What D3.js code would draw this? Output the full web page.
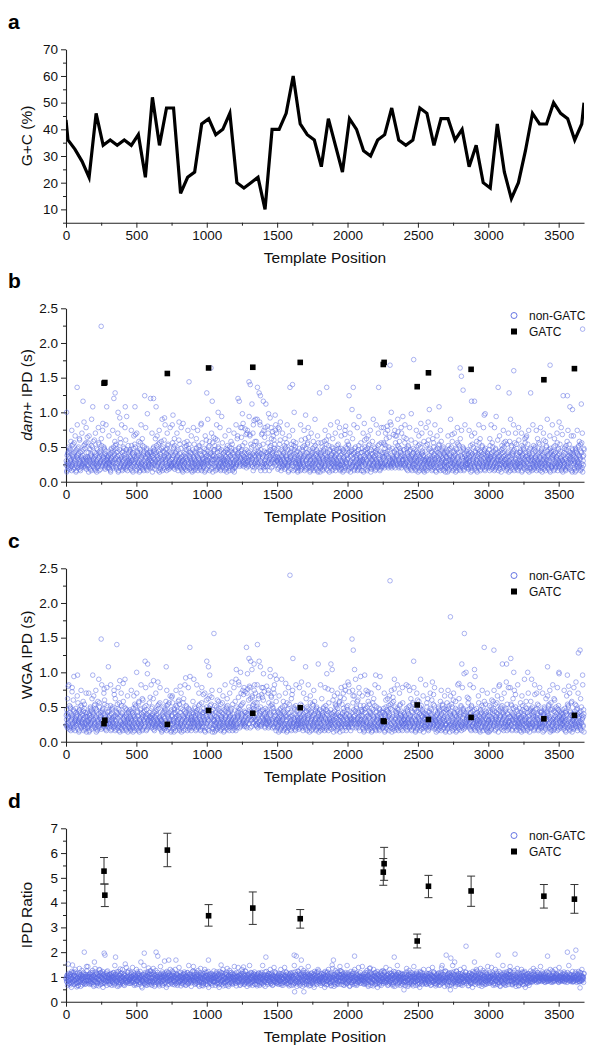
<!DOCTYPE html>
<html><head><meta charset="utf-8">
<script src="https://cdn.jsdelivr.net/npm/d3@7"></script>
<style>
body{margin:0;background:#fff}
svg{display:block}
text{font-family:"Liberation Sans",Arial,Helvetica,sans-serif}
</style>
</head><body>
<svg id="chart" width="592" height="1050"></svg>
<script>
// ---------------- DATA ----------------
// Panel a: G+C content along the template
const gcPos = [0,14,64,114,164,214,264,314,364,414,464,514,564,614,664,714,764,814,864,914,964,1014,1064,1114,1164,1214,1264,1314,1364,1414,1464,1514,1564,1614,1664,1714,1764,1814,1864,1914,1964,2014,2064,2114,2164,2214,2264,2314,2364,2414,2464,2514,2564,2614,2664,2714,2764,2814,2864,2914,2964,3014,3064,3114,3164,3214,3264,3314,3364,3414,3464,3514,3564,3614,3664,3680];
const gcVal = [43.5,36,32.5,28,22,46,34,36,34,36,34,38,22,52,34,48,48,16,22,24,42,44,38,40,46,20,18,20,22,10,40,40,46,60,42,38,36,26,44,34,24,44,40,32,30,36,38,48,36,34,36,48,46,34,44,44,36,40,26,34,20,18,42,24,14,20,32,46,42,42,50,46,44,36,42,50];

// GATC sites
const gatcPos   = [270,276,720,1013,1327,1664,2254,2260,2495,2575,2878,3395,3612];
const gatcDam   = [1.42,1.43,1.56,1.64,1.65,1.72,1.69,1.72,1.37,1.57,1.62,1.47,1.63];
const gatcWga   = [0.26,0.31,0.25,0.45,0.41,0.49,0.30,0.29,0.53,0.32,0.35,0.33,0.38];
const gatcRatio = [5.27,4.30,6.12,3.47,3.78,3.35,5.23,5.57,2.45,4.66,4.47,4.26,4.14];
const gatcRatioLo = [4.75,3.84,5.45,3.05,3.12,2.97,4.70,4.90,2.17,4.20,3.85,3.78,3.57];
const gatcRatioHi = [5.82,4.75,6.80,3.92,4.43,3.72,5.78,6.23,2.73,5.10,5.07,4.73,4.73];

// Axis ticks
const xMajorTicks = [0,500,1000,1500,2000,2500,3000,3500];
const xMinorTicks = [250,750,1250,1750,2250,2750,3250];
const gcTicks = [10,20,30,40,50,60,70];
const gcMinor = [5,15,25,35,45,55,65];
const ipdTicks = [0,0.5,1.0,1.5,2.0,2.5];
const ipdMinor = [0.25,0.75,1.25,1.75,2.25];
const ratioTicks = [0,1,2,3,4,5,6,7];
const ratioMinor = [0.5,1.5,2.5,3.5,4.5,5.5,6.5];

// non-GATC values: one character per template position, chunks of 150 bases.
// Set A: bases 1,4,7,...  character k stands for k*0.04
// Set B: bases 2,5,8,...  character k stands for k*0.04 + 0.02
const LEVELS = "0123456789ABCDEFGHIJKLMNOPQRSTUVWXYZabcdefghijklmnopqrstuvwxyz";
const damA = [
"6P47A59B6C7584D69A7E58B649YC5A68F74956B8T6D7C59E86",
"G9E685C7A4D96R785F94A6C7586E49B7AuD86L97C5A6B8R957",
"9576A48C6B795UA8WD75C9BP487N5E69847B5C6ARF59746D8B",
"79B56D4A8C679RH8496B7A5C64E8975D6A4BV6957C4A9768B5",
"UA6957CUB86A7RD9684B7E5A96C847B5FN978A4C5D69B75A86",
"68EO5C7D6A8B65947F86A5C7946L85E7A96D4857CaB95A7486",
"75948B6A5C79468D5A7BL4E6857C6A49FW87B69D4A7f58TE9G",
"B8D64795F8P6C5B74896E5A7846B9C57D68A4597B6C84A6759",
"5B8679AUC7T968BGA6DL798EJ6H5A7B69a8HZ976S8A4DM5B97",
"68AY7B9WD5V4AH796T5BG48S69AKE7B48N9D57AI8BFC7O96A8",
"97C5AJ8F74956B8A6D7C59E866847AY9B6C7Z84DP9A7E58B64",
"57C6A49F587B69D4AOC586E9G75948B6A5C79468D5A7B94E68",
"W7A5E69847B5C6A8FY9746D8B9576A48C6B7954A86D75C9B64",
"6C5A7B6948H5K76C8A4DV5B975BQ67YA4C75968B4A6D5798E4",
"6C847BLF6978A4C5D69B75A868A6957C4B86A75DY684B7E5A9",
"68E95C7D6AKB659G7g86P5C79H6B85E7A96DI857C6B95A7886",
"G9E685C7A4D96B785F94A6Ci586E49B7A5D86497L5A6B84957",
"B8D64795F8Q6C5B74896E5A7846B9C57DR8A4597B6C84A6759",
"79B56D4A8C6795H8496B7A5C64E8975D6f4Bc695XC4A9768B5",
"68A57B96D5T4A8796T5B748C69A5E7B4869D57A6OB4C7596A8",
"7584D69A7E58B6497C5A68FY4956B8A6D7C59E866847A59B6W",
"79468D5A7Be4E6857C6A49F587B69D4A7C586E9G75948B6A5C",
"W954A86D75C9B6487A5E69847B5C6A8F59746D8B9576A4gC6B",
"5968B4A6D5798E46C5A7B6948H5V76C8A4D65V975B8R79A4CQ",
"8A6957C4B86A75D9684BSE5t96C"
];
const damB = [
"7395A6C48B7E5I69D48A7G63B5K89C6F47A58H69B7L5D68J47",
"58A3G7B496M7C5E86A4H9736B5J8D6A47F95I68C7B45K69786",
"9G6473B8A5I7C69E58D4A6H379B5F86K4A7C598J64BN5786A7",
"6B84I75A39G6D7C85H4A96E37B5K68F49A7C56J8B4O7956A87",
"A57H398C6B4F7A5G96D8I3B47E5M6C89A4K7B65H8D9467J5A6",
"5K89C6F47A58H69B7L5D68J477395A6C48B7E5I69D48A7G63B",
"5J8D6A47F95I68C7B45K6978658A3G7B496M7C5E86A4H9736B",
"9B5F86K4A7C598J64BN5786A79G6473B8A5I7C69E58D4A6H37",
"B5K68FG9A7C56J8BJO7956A876B8HI75AN9G6D7C85HKA96EM7",
"E5M6C89ALK7B65H8D9I67J5A6A57HO98C6BJF7A5G96D8IKBH7",
"74J86D5L7B96H85A74F6C98K5B36G7A84D96I5E7B84C6A5937",
"68796K54B7C86I59F74A6D8J5B6379H4A68E5C7M694B7G3A85",
"7395A6C48B7E5I69D48A7G63B5K89C6F47A58H69B7L5D68J47",
"9G6473B8A5I7C69E58D4A6H379B5F86K4A7C598J64BN5786A7",
"A57H398C6B4F7A5G96D8I3B47E5M6C89A4K7B65H8D9467J5A6",
"5J8D6AH7F95I68C7BL5K6978658AIG7BG96M7C5E86AJH97N6B",
"B5K68F49A7C56J8B4O7956A876B84I75A39G6D7C85H4A96E37",
"74J86D5L7B96H85A74F6C98K5B36G7A84D96I5E7B84C6A5937",
"58A3G7B496M7C5E86A4H9736B5J8D6A47F95I68C7B45K69786",
"6B84I75A39G6D7C85H4A96E37B5K68F49A7C56J8B4O7956A87",
"9B5F86K4A7C598J64BN5786A79G6473B8A5I7C69E58D4A6H37",
"E5M6C89A4K7B65H8D9467J5A6A57H398C6B4F7A5G96D8I3B47",
"68796K54B7C86I59F74A6D8J5B6379H4A68E5C7M694B7G3A85",
"5K89C6F47A58H69B7L5D68J477395A6C48B7E5I69D48A7G63B",
"9G6473B8A5I7C69E58D4A6H379B"
];
const wgaA = [
"68A57K96D5C4A8I96F5B748C69AOE7B4869D57A68B4C7596A8",
"9576A48C6B795OA86D75C9B6487A5E698b7B5C6AJF59746D8B",
"R9B56D4A8C6795H8496BZA5C64EM975D6A4L86957C4A9768B5",
"75948B6A5C79468D5P7B94E6857C6A49F587BT9D4A7S586E9G",
"97C5A68M74956B8A6D7C59E866847A59B6C75R4D69A7E58B64",
"G9E685C7A4D96B785F94K6C7586E49B7AND86497C5AYB84957",
"8A6957C4B86A75D9684B7E5A9HC847B5FT978R4COD69BG5A86",
"d8D64795F8A6C5B74896E5A7846B9C57D68A4597B6C84A6759",
"684QA59BGC758PD69A7EH8B6I97Y5AJ8FUK95TB8QGD7CS9E86",
"68EZ5C7T6ARB6H9G7F8IA5C79K6B85E7AQ6DG857CJB95O7486",
"5B8679A4C75968B4A6D5L98E46C5A7y6948H5U76C8A4D65B97",
"68A57B96D5C4A8796R5B748C69A5E7B4869D57A68B4C759SA8",
"75948B6A5C794Z8D5A7BJ4E6857S6AQ9F587B69D4A7C586E9G",
"9576A48C6BK954A86D75I9B6487b5EX98Q7B5C6A8F59746D8B",
"79B56D4O8C6795HI496B7A5C64E8975D6O4B86957C4A9768B5",
"57C6A49F587B69D4AwC586E9G75J48B6A5C79468D5A7B94E68",
"8A6957C4B8KA75D9684B7E5T96C847B5F6978A4C5D69B75A86",
"87A5E69847B5C6A8F597H6D8B9576A48C6B7954A86D75C9B64",
"68E95C7D6AjB65947F86A5C7946B85L7A96D4S57C6Bd5A7P86",
"G9E685C7A4D96B785Q94A6C7586E49B7A5D86497Y5A6B84957",
"B8D64795F8A6CXB74896E5A78K6B9C57DS8A4597B6CS4A6759",
"79BU6D4A8CP795H8496B7A5C64E8975D6A4B86957C4P9768B5",
"6C5A7B6948H5976C8A4D65B975B8679A4C75968BRA6D5798E4",
"6C847B5F6978A4C5DP9B75A868A6957C4B86AO5DK684B7E5A9",
"68A57B96D5C4AW796X5B748O69A"
];
const wgaB = [
"9B5F86K4A7C598J64BN5786A79G6473B8A5I7C69E58D4A6H37",
"A57H398C6B4F7A5G96D8I3B47E5M6C89A4K7B65H8D9467J5A6",
"68796K54B7C86I59F74A6D8J5B6379H4A68E5C7M694B7G3A85",
"6B84I75A39G6D7C85H4A96E37B5K68F49A7C56J8B4O7956A87",
"5K89C6F47A58H69B7L5D68J477395A6C48B7E5I69D48A7G63B",
"9G6473B8A5I7C69E58D4A6H379B5F86K4A7C598J64BN5786A7",
"E5M6C89A4K7B65H8D9467J5A6A57H398C6B4F7A5G96D8I3B47",
"7395A6C48B7E5I69D48A7G63B5K89C6F47A58H69B7L5D68J47",
"E5M6C89ALK7B65H8D9I67J5A6A57HO98C6BJF7A5G96D8IKBH7",
"B5K68FG9A7C56J8BJO7956A876B8HI75AN9G6D7C85HKA96EM7",
"58A3G7B496M7C5E86A4H9736B5J8D6A47F95I68C7B45K69786",
"74J86D5L7B96H85A74F6C98K5B36G7A84D96I5E7B84C6A5937",
"B5K68F49A7C56J8B4O7956A876B84I75A39G6D7C85H4A96E37",
"5J8D6AH7F95I68C7BL5K6978658AIG7BG96M7C5E86AJH97N6B",
"9G6473B8A5I7C69E58D4A6H379B5F86K4A7C598J64BN5786A7",
"A57H398C6B4F7A5G96D8I3B47E5M6C89A4K7B65H8D9467J5A6",
"68796K54B7C86I59F74A6D8J5B6379H4A68E5C7M694B7G3A85",
"5K89C6F47A58H69B7L5D68J477395A6C48B7E5I69D48A7G63B",
"6B84I75A39G6D7C85H4A96E37B5K68F49A7C56J8B4O7956A87",
"9B5F86K4A7C598J64BN5786A79G6473B8A5I7C69E58D4A6H37",
"7395A6C48B7E5I69D48A7G63B5K89C6F47A58H69B7L5D68J47",
"5J8D6A47F95I68C7B45K6978658A3G7B496M7C5E86A4H9736B",
"E5M6C89A4K7B65H8D9467J5A6A57H398C6B4F7A5G96D8I3B47",
"B5K68F49A7C56J8B4O7956A876B84I75A39G6D7C85H4A96E37",
"74J86D5L7B96H85A74F6C98K5B3"
];
const ratioA = [
"NPKRMcIQLSHPNJTbKQMRLUIPNFJOGQMKTPRLNOHQSMJoKPRILV",
"OMQJPLSNKRIOTPMHQeLUKOSJPRMGNQWTKPIOSRJMnPlQLKUOVR",
"PKNRIMQOSLJPTNHRMjKOUPLSIGNRXJMOTKPLHNSQcMJOPUKLVN",
"LQNOJSPMKRTOINPQHMLUROKSNPJeQMELOKRnISNHMQJUPYLRKV",
"VLIRPKUJMSQHOoLRPkKMQGOJSNPIULRMQfOTJNPHSLQgOMRKPN",
"RVOUKLQHPNgJRSOIPKTLQNGMRPJSOKULNQHMPTOIRKNSLPJQMO",
"NVLKUPOJMRQSNHLPKTOMJQRNGISLPUOKQMRHNgPJLSOQMIRNKP",
"VKRLOPUJQMHNSIPRKbLTMQGJPNSKORULMHQPNIOTRKMPSJONQL",
"SJOGQMKTPRLNOHQSMJUKZRILVNPKRMOIQLSHPNJTOKQMRLUIPN",
"RMGNQLTKPIOSRJMNPHQLKUOjROMQJPLSNKRIOTPMHQNLUKOSJP",
"NPKRMOIQLSHPNJTOKQMRLUIPNSJOGQMKTPRLNOHQlAJUKkRILV",
"PKNRIMQgSLJPTAHRMQKOUPLSIGNRQJMOTKPLHNSQRMJOPUKLVN",
"LQNOJSPMKRTOINPQHMLUROKSNPJGQMbLOgRPISNHMQJUPOLRKV",
"RVOUKLQHPNMJRSOIPKTLQNGMRPJSOKULNkHMPTOIRKNSLPJQMO",
"OMQJPLSNKRIOTPMHQNLUYOSJPRMGNQLTKPIOSRJMNPHQLKUOVR",
"NVLKUPOJMRQSNHLPKTOMJQRNGISjPUOKQMRHNTPJLSOQMIRNKP",
"CKRLOPUJQMHNSIPRKOLTMQGJPNSKORULMHQPNIOTRKMPSJONQL",
"PKNRIMQOSLJPTNHRMQKOUPLSIGNRQJMOTKPLHNSYRMJOPUKLVN",
"lJOGQMKTPRCiOHQSMJUKeRILVNPKRMOIQLSHPNJTOKQMRLUuPN",
"RMGNQLTKPIOSRJMNPeQLKUOVROMQJPLSNKRIOTPMHQNLUKOSJP",
"LQNOJSPMKRTOINPQHMLUROKlNPJGQMTLOKRPISNHMQJUPOLRKV",
"RVOUKLQHPNMJRmOIPKTLQNGMRPJSOKULNQHMPTOIRKNSLPJQMO",
"VLNRPKUOMSQMONLRPTKMQLOOSNPNULRMQKOTONPMkLQNOMRKPN",
"NVLKUPOOMRQSNMLPKTOMOQRNLNSLPUOKQMRMNoPOLSOQMNRNKP",
"jKRLOPUqQMMNSNPRKELTMQLOPNS"
];
const ratioB = [
"NKQGOSLIPJRMEUNKOTHQLWMPIJSNGKRXOLFQMVJNPTIKHORLZP",
"PZLROHKITPNJVMQFLOXRKGNSJIPMWLQHTOKNUEMRJPILSOGQKN",
"LOHRNKSPGMQJTOIaNLRKPFMOUJQHNSLKPWIORMGQNJYLPKTOIM",
"MIOTKPLYJNQGMROIWPKLSNHQJUOMFPKRLNaIOTJQMGPSKNRHOL",
"JSNGKRXOLFQMVJNPTIKHORLZPNKQGOSLIPJRMEUNKOTHQLWMPI",
"JQHNSLKPWIORMGQNJYLPKTOIMLOHRNKSPGMQJTOIaNLRKPFMOU",
"PZLROHKITPNJVMQFLOXRKGNSJIPMWLQHTOKNUEMRJPILSOGQKN",
"NKQGOSLIPJRMEUNKOTHQLWMPIJSNGKRXOLFQMVJNPTIKHORLZP",
"MIOTKPLYJNQGMROIWPKLSNHQJUOMFPKRLNaIOTJQMGPSKNRHOL",
"LOHRNKSPGMQJTOIaNLRKPFMOUJQHNSLKPWIORMGQNJYLPKTOIM",
"JQHNSLKPWIORMGQNJYLPKTOIMLOHRNKSPGMQJTOIaNLRKPFMOU",
"JSNGKRXOLFQMVJNPTIKHORLZPNKQGOSLIPJRMEUNKOTHQLWMPI",
"NKQGOSLIPJRMEUNKOTHQLWMPIJSNGKRXOLFQMVJNPTIKHORLZP",
"LOHRNKSPGMQJTOIaNLRKPFMOUJQHNSLKPWIORMGQNJYLPKTOIM",
"PZLROHKITPNJVMQFLOXRKGNSJIPMWLQHTOKNUEMRJPILSOGQKN",
"MIOTKPLYJNQGMROIWPKLSNHQJUOMFPKRLNaIOTJQMGPSKNRHOL",
"JSNGKRXOLFQMVJNPTIKHORLZPNKQGOSLIPJRMEUNKOTHQLWMPI",
"JQHNSLKPWIORMGQNJYLPKTOIMLOHRNKSPGMQJTOIaNLRKPFMOU",
"LOHRNKSPGMQJTOIaNLRKPFMOUJQHNSLKPWIORMGQNJYLPKTOIM",
"NKQGOSLIPJRMEUNKOTHQLWMPIJSNGKRXOLFQMVJNPTIKHORLZP",
"MIOTKPLYJNQGMROIWPKLSNHQJUOMFPKRLNaIOTJQMGPSKNRHOL",
"PZLROHKITPNJVMQFLOXRKGNSJIPMWLQHTOKNUEMRJPILSOGQKN",
"JSNMKRXOLLQMVJNPTOKNORLZPNKQMOSLOPJRMKUNKOTNQLWMPO",
"JQNNSLKPWOORMMQNJYLPKTOOMLONRNKSPMMQJTOOaNLRKPLMOU",
"NKQMOSLOPJRMKUNKOTNQLWMPOJS"
];

// ---------------- DRAWING ----------------
function decode(chunks, baseOffset, valueOffset) {
  const out = [];
  chunks.forEach((s, ci) => {
    for (let j = 0; j < s.length; j++) {
      const pos = ci * 150 + j * 3 + baseOffset;
      if (pos <= 3680) out.push({pos: pos, v: LEVELS.indexOf(s[j]) * 0.04 + valueOffset});
    }
  });
  return out;
}
function series(a, b) { return decode(a, 1, 0).concat(decode(b, 2, 0.02)); }

const svg = d3.select('#chart');
const x = d3.scaleLinear().domain([0, 3680]).range([66, 584]);
const TOP = 49.3, BOTTOM = 222.7;
const BLUE = '#5868e0';
const AXIS = '#222';

function panel(offY, domain, major, minor, fmt, letter, yTitle) {
  const g = svg.append('g').attr('transform', `translate(0,${offY})`);
  const y = d3.scaleLinear().domain(domain).range([BOTTOM, TOP]);

  g.append('text').attr('x', 8).attr('y', 29)
    .attr('font-size', 21).attr('font-weight', 'bold').attr('fill', '#000').text(letter);

  g.append('g').attr('transform', `translate(${x(0)},0)`)
    .call(d3.axisLeft(y).tickValues(major).tickSize(5).tickSizeOuter(0).tickFormat(fmt));
  g.append('g').attr('transform', `translate(${x(0)},0)`)
    .call(d3.axisLeft(y).tickValues(minor).tickSize(3).tickSizeOuter(0).tickFormat(''))
    .call(s => s.select('.domain').remove());
  g.append('g').attr('transform', `translate(0,${BOTTOM})`)
    .call(d3.axisBottom(x).tickValues(xMajorTicks).tickSize(5).tickSizeOuter(0).tickFormat(d3.format('d')));
  g.append('g').attr('transform', `translate(0,${BOTTOM})`)
    .call(d3.axisBottom(x).tickValues(xMinorTicks).tickSize(3).tickSizeOuter(0).tickFormat(''))
    .call(s => s.select('.domain').remove());

  g.selectAll('.domain').attr('stroke', AXIS).attr('stroke-width', 1.1);
  g.selectAll('.tick line').attr('stroke', AXIS).attr('stroke-width', 1);
  g.selectAll('.tick text').attr('font-size', 13.5).attr('fill', '#111')
    .attr('font-family', '"Liberation Sans",Arial,sans-serif');

  g.append('text').attr('x', (x.range()[0] + x.range()[1]) / 2).attr('y', BOTTOM + 40)
    .attr('text-anchor', 'middle').attr('font-size', 15.5).attr('fill', '#111')
    .text('Template Position');

  const yt = g.append('text').attr('transform', `translate(32,${(TOP + BOTTOM) / 2}) rotate(-90)`)
    .attr('text-anchor', 'middle').attr('font-size', 15.5).attr('fill', '#111');
  yTitle(yt);

  return {g, y};
}

function legend(g) {
  g.append('circle').attr('cx', 514).attr('cy', 56.5).attr('r', 3)
    .attr('fill', 'none').attr('stroke', BLUE).attr('stroke-width', 0.9);
  g.append('text').attr('x', 529).attr('y', 60.7).attr('font-size', 12).attr('fill', '#111').text('non-GATC');
  g.append('rect').attr('x', 511).attr('y', 69.5).attr('width', 6).attr('height', 6).attr('fill', '#000');
  g.append('text').attr('x', 529).attr('y', 76.7).attr('font-size', 12).attr('fill', '#111').text('GATC');
}

function scatter(g, y, pts) {
  g.append('g').selectAll('circle').data(pts).join('circle')
    .attr('cx', d => x(d.pos)).attr('cy', d => y(d.v)).attr('r', 2.3)
    .attr('fill', 'none').attr('stroke', BLUE).attr('stroke-width', 0.5);
}

function squares(g, y, vals) {
  g.append('g').selectAll('rect').data(gatcPos).join('rect')
    .attr('x', d => x(d) - 2.8).attr('y', (d, i) => y(vals[i]) - 2.8)
    .attr('width', 5.6).attr('height', 5.6).attr('fill', '#000');
}

// Panel a
{
  const {g, y} = panel(0, [5, 70], gcTicks, gcMinor, d3.format('d'), 'a', t => t.text('G+C (%)'));
  g.append('defs').append('clipPath').attr('id', 'clipA').append('rect')
    .attr('x', x(0)).attr('y', TOP - 10).attr('width', x(3680) - x(0)).attr('height', BOTTOM - TOP + 10);
  const line = d3.line().x((d, i) => x(gcPos[i])).y(d => y(d));
  g.append('path').datum(gcVal).attr('d', line).attr('clip-path', 'url(#clipA)')
    .attr('fill', 'none').attr('stroke', '#000').attr('stroke-width', 3.2)
    .attr('stroke-linejoin', 'miter');
}

// Panel b
{
  const {g, y} = panel(259, [0, 2.5], ipdTicks, ipdMinor, d3.format('.1f'), 'b', t => {
    t.append('tspan').attr('font-style', 'italic').text('dam');
    t.append('tspan').text('+ IPD (s)');
  });
  scatter(g, y, series(damA, damB));
  squares(g, y, gatcDam);
  legend(g);
}

// Panel c
{
  const {g, y} = panel(519, [0, 2.5], ipdTicks, ipdMinor, d3.format('.1f'), 'c', t => t.text('WGA IPD (s)'));
  scatter(g, y, series(wgaA, wgaB));
  squares(g, y, gatcWga);
  legend(g);
}

// Panel d
{
  const {g, y} = panel(779, [0, 7], ratioTicks, ratioMinor, d3.format('d'), 'd', t => t.text('IPD Ratio'));
  scatter(g, y, series(ratioA, ratioB));
  const eb = g.append('g').attr('stroke', '#333').attr('stroke-width', 1);
  gatcPos.forEach((p, i) => {
    const cx = x(p);
    eb.append('line').attr('x1', cx).attr('x2', cx).attr('y1', y(gatcRatioLo[i])).attr('y2', y(gatcRatioHi[i]));
    eb.append('line').attr('x1', cx - 4).attr('x2', cx + 4).attr('y1', y(gatcRatioLo[i])).attr('y2', y(gatcRatioLo[i]));
    eb.append('line').attr('x1', cx - 4).attr('x2', cx + 4).attr('y1', y(gatcRatioHi[i])).attr('y2', y(gatcRatioHi[i]));
  });
  squares(g, y, gatcRatio);
  legend(g);
}
</script>
</body></html>
